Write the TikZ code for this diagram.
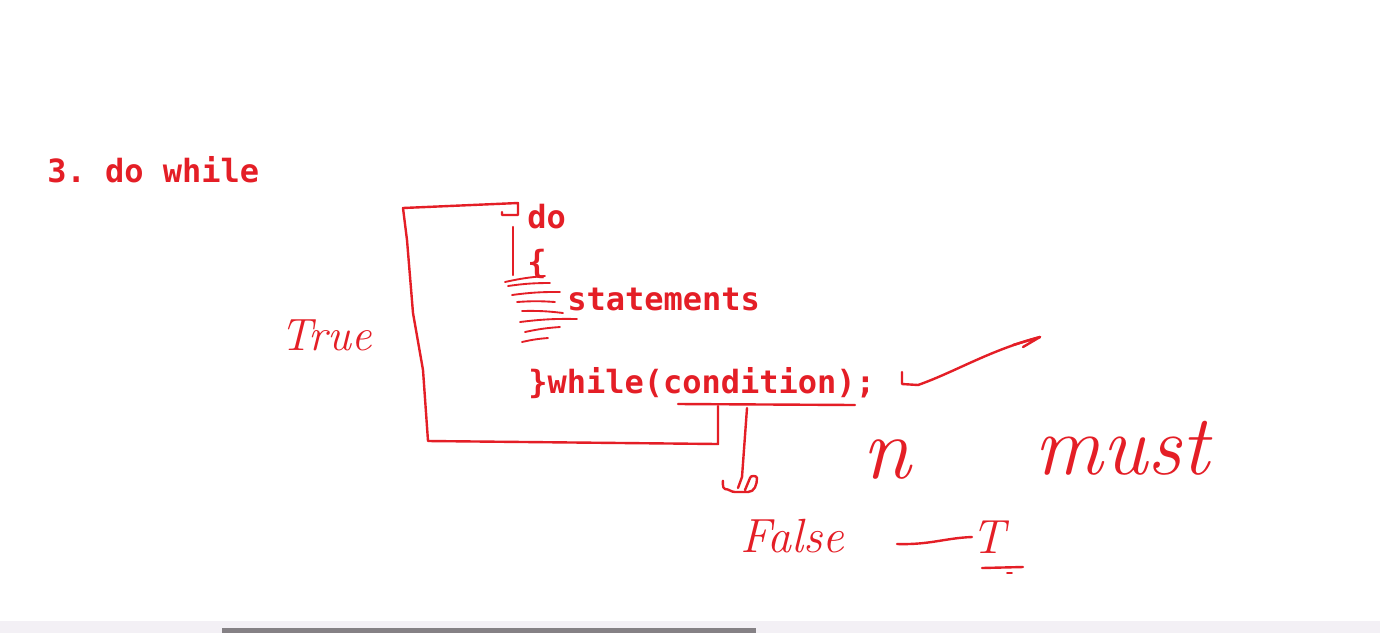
\documentclass[tikz,border=0pt]{standalone}
\usepackage{fontspec}
\setmonofont{DejaVu Sans Mono}
\usetikzlibrary{arrows}
\definecolor{pen}{RGB}{228,30,38}
\definecolor{barband}{RGB}{243,240,245}
\definecolor{bargrey}{RGB}{133,129,133}

\begin{document}
\begin{tikzpicture}[x=0.75pt,y=-0.75pt,
    code/.style={font=\ttfamily\bfseries\fontsize{24}{28}\selectfont,text=pen,
                 inner sep=0pt,anchor=base west},
    hand/.style={text=pen,inner sep=0pt,anchor=base},
    ink/.style={draw=pen,line width=1.8pt,line cap=round,line join=round}]
  \useasboundingbox (0,0) rectangle (1380,633);
  \fill[white] (0,0) rectangle (1380,633);

  % the printed code
  \node[code] (title) at (47,182) {3. do while};
  \node[code] (do)    at (527,228) {do};
  \node[code] (brace) at (527,273) {\{};
  \node[code] (stmts) at (567,310) {statements};
  \node[code] (while) at (528,393) {\}while(condition);};

  % the pen notes
  \node[hand,font=\itshape\fontsize{34}{34}\selectfont] (true)  at (326,350) {True};
  \node[hand,font=\itshape\fontsize{36}{36}\selectfont] (false) at (792,552) {False};
  \node[hand,font=\itshape\fontsize{66}{66}\selectfont] (n)     at (887,478) {n};
  \node[hand,font=\itshape\fontsize{64}{64}\selectfont] (must)  at (1122,474) {must};
  \node[hand,font=\itshape\fontsize{36}{36}\selectfont] (T)     at (988,553) {T};

  \coordinate (loopin)  at (518,215);
  \coordinate (loopout) at (718,406);
  \coordinate (ulL) at (678,404);
  \coordinate (ulR) at (855,405);
  \coordinate (semi) at (902,372);
  \coordinate (tip) at (1040,337);

  % loop back (True)
  \draw[ink] (loopout) -- (718,444) -- (428,441) -- (423,370) -- (413,313)
             -- (407,240) -- (403,208) -- (518,203) -- (loopin) -- (502,215) -- (502,212);
  \draw[ink] (ulL) -- (ulR);
  \draw[ink] (513,227) -- (513,275);
  \foreach \xa/\ya/\xb/\yb in {505/282/545/276, 508/286/550/283, 512/295/560/292,
                               517/302/555/302, 522/311/563/313, 520/322/577/319,
                               525/332/560/327, 522/342/548/338}
    \draw[ink,line width=1.4pt] (\xa,\ya) to[bend left=4] (\xb,\yb);

  % way out (False)
  \draw[ink] (747,408) -- (742,477) -- (738,488);
  \draw[ink] (723,481) to[out=90,in=180] (725,489) to[out=0,in=180] (735,492)
             -- (748,492) to[out=0,in=-90] (757,478) to[out=90,in=90] (750,478) -- (745,490);
  \draw[ink] (semi) -- (902,384) -- (918,385)
             .. controls (955,372) and (990,350) .. (tip) -- (1023,347);
  \draw[ink] (1013,345) -- (tip);
  \draw[ink] (897,544) .. controls (930,545) and (945,538) .. (972,537);
  \draw[ink] (982,568) -- (1023,567);
  \draw[ink,line width=1.2pt] (1007,573) -- (1012,573);

  % scroll bar
  \fill[barband] (0,621) rectangle (1380,633);
  \fill[bargrey] (222,628) rectangle (756,633);
\end{tikzpicture}
\end{document}
